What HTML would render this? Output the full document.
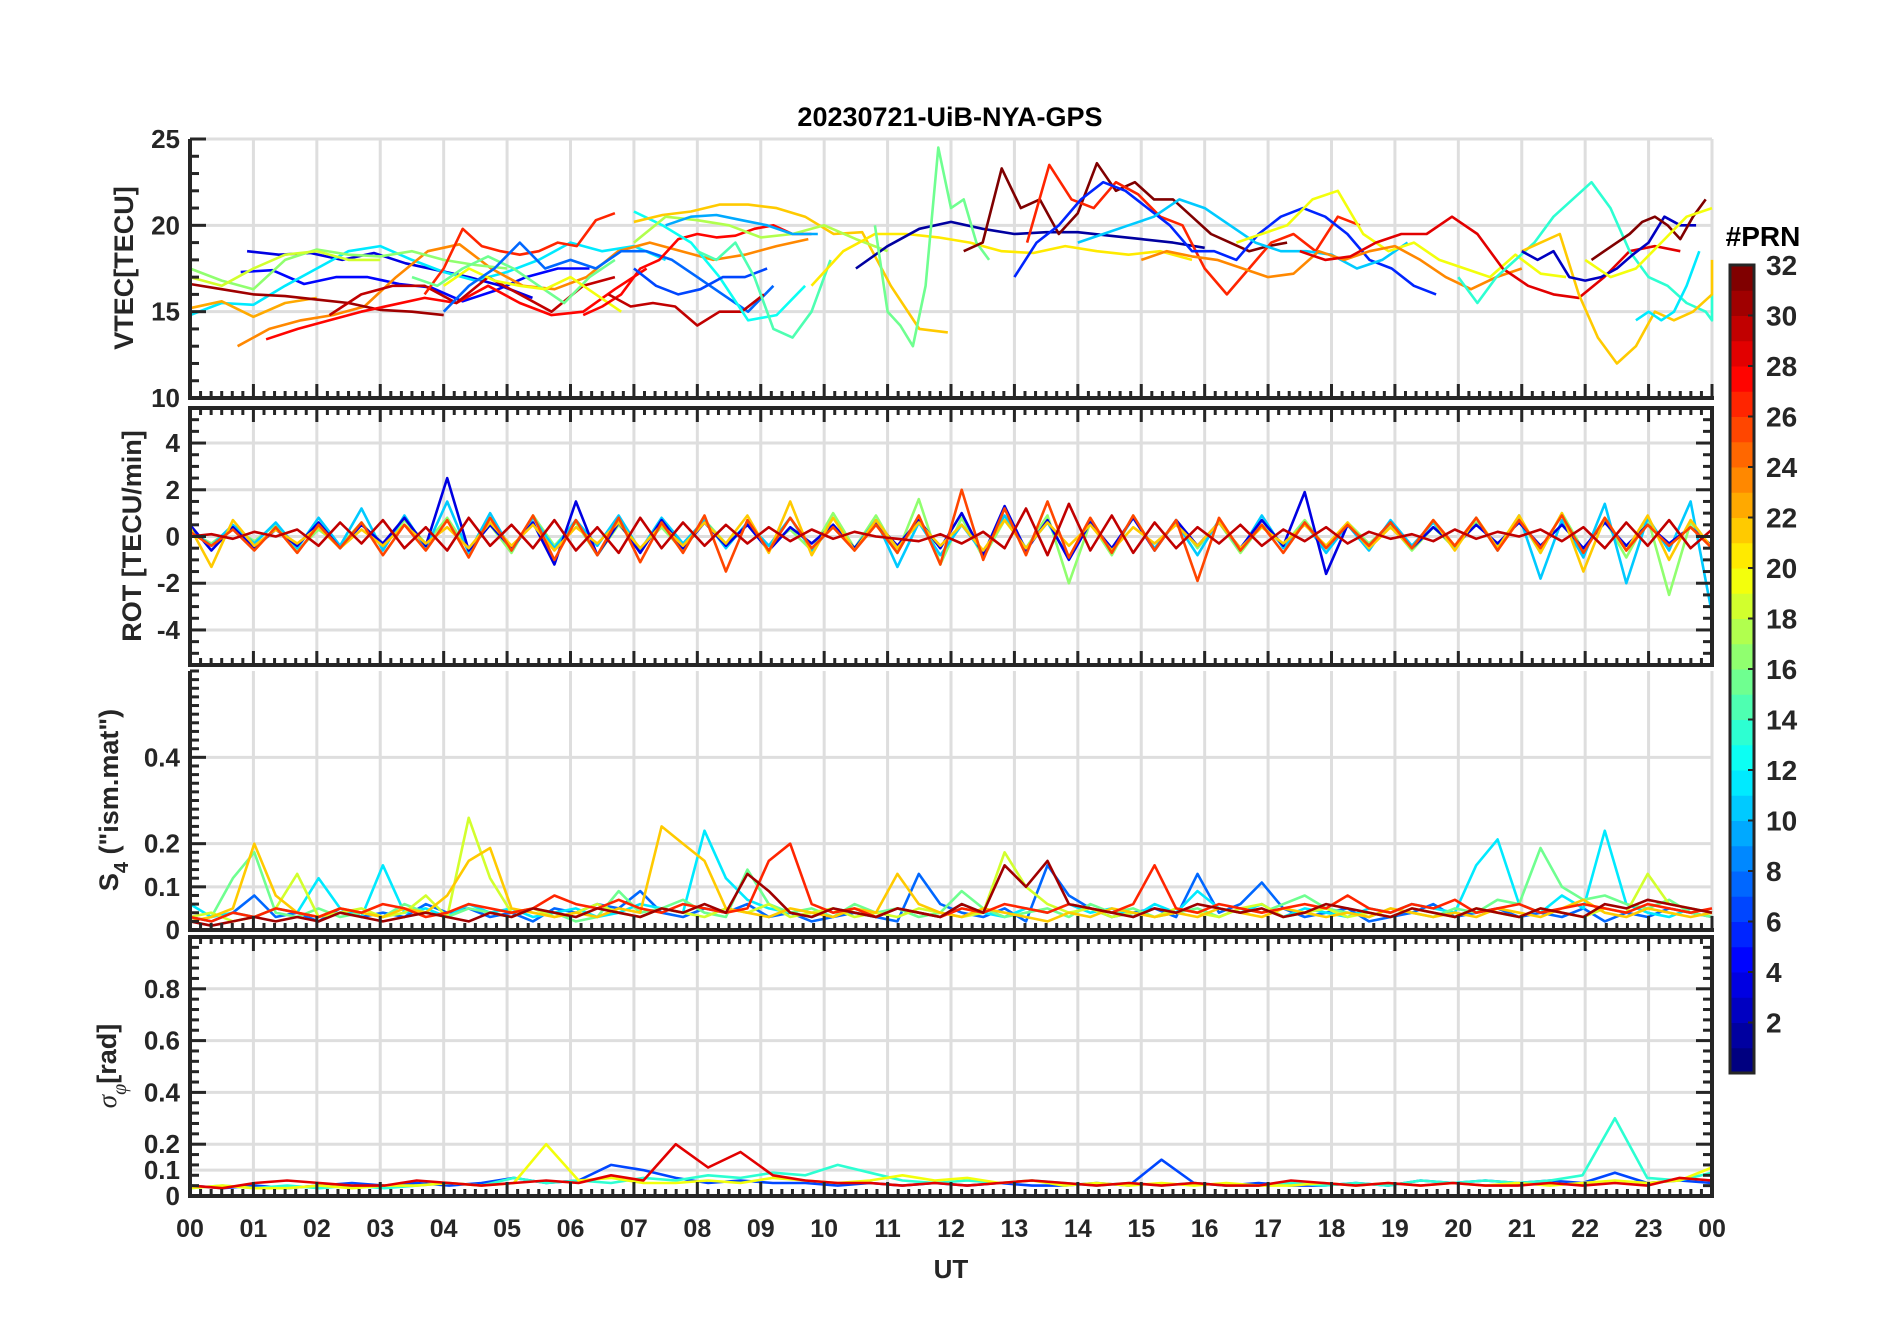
<!DOCTYPE html>
<html><head><meta charset="utf-8"><title>20230721-UiB-NYA-GPS</title>
<style>
html,body{margin:0;padding:0;background:#fff;}
svg{display:block;font-family:"Liberation Sans",Arial,sans-serif;}
</style></head>
<body>
<svg id="chart" width="1902" height="1330" viewBox="0 0 1902 1330" xmlns="http://www.w3.org/2000/svg">
<rect width="1902" height="1330" fill="#fff"/>
<text x="950" y="126" text-anchor="middle" font-size="27" font-weight="bold" fill="#000">20230721-UiB-NYA-GPS</text>
<g id="grids"></g>
<g id="series"></g>
<g id="axes"></g>
<g id="cbar"></g>
<text x="951" y="1278" text-anchor="middle" font-size="26" font-weight="bold" fill="#262626">UT</text>
<text transform="translate(133,268) rotate(-90)" text-anchor="middle" font-size="27" font-weight="bold" fill="#262626">VTEC[TECU]</text>
<text transform="translate(141,536) rotate(-90)" text-anchor="middle" font-size="27" font-weight="bold" fill="#262626">ROT [TECU/min]</text>
<text transform="translate(118,800) rotate(-90)" text-anchor="middle" font-size="27" font-weight="bold" fill="#262626">S<tspan font-size="20" dy="10">4</tspan><tspan dy="-10"> ("ism.mat")</tspan></text>
<text transform="translate(116,1066) rotate(-90)" text-anchor="middle" font-size="27" font-weight="bold" fill="#262626"><tspan font-style="italic" font-weight="normal" font-family="Liberation Serif, serif">σ</tspan><tspan font-size="20" dy="10" font-style="italic" font-weight="normal" font-family="Liberation Serif, serif">φ</tspan><tspan dy="-10">[rad]</tspan></text>
<text x="1763" y="246" text-anchor="middle" font-size="28" font-weight="bold" fill="#000">#PRN</text>
</svg>
<script>
// ---------- data ----------
const hourTicks = ["00","01","02","03","04","05","06","07","08","09","10","11","12","13","14","15","16","17","18","19","20","21","22","23","00"];
const vtecTicks = [10,15,20,25];
const rotTicks = [-4,-2,0,2,4];
const s4Ticks = [0,0.1,0.2,0.4];
const sigTicks = [0,0.1,0.2,0.4,0.6,0.8];
const prnTicks = [2,4,6,8,10,12,14,16,18,20,22,24,26,28,30,32];

// VTEC arcs: PRN, start hour, step hour, values
const vtecPrn   = [5,4,12,23,24,31,17,19,28,30,27,16,20,8,28,30,13,7,22,18,10,15,21,2,16,32,27,6,11,20,24,29,14,22,3,32,12,20];
const vtecStart = [0.8,0.9,0,0,0.75,0,0,0,1.2,2.2,3.7,3.5,4.0,4.0,6.2,6.6,7.0,7.0,7.0,7.0,7.5,8.0,9.8,10.5,10.8,12.2,13.2,13.0,14.0,16.5,15.0,17.5,20.0,21.0,21.0,22.1,22.8,22.0];
const vtecStep  = [0.5,0.5,0.5,0.5,0.5,0.5,0.5,0.5,0.5,0.5,0.3,0.4,0.4,0.4,0.3,0.35,0.45,0.35,0.45,0.5,0.4,0.3,0.5,0.5,0.2,0.3,0.35,0.35,0.4,0.4,0.4,0.4,0.3,0.3,0.25,0.2,0.2,0.4];
const vtecVals = [
 [17.3,17.4,16.6,17.0,17.0,16.6,16.4,15.6,16.2,17.0,17.5,17.5],
 [18.5,18.3,18.4,18.0,18.4,17.8,17.4,17.0,16.5,15.8],
 [14.8,15.5,15.4,16.5,17.5,18.5,18.8,18.0,17.3,16.8,17.3,18.0,19.0,18.5,18.8,18.0],
 [15.2,15.6,14.7,15.5,15.8],
 [13.0,14.0,14.5,14.8,15.3,17.0,18.5,18.9,17.5,16.5,16.3,17.0,18.5,19.0,18.5,18.0,18.3,18.8,19.2],
 [16.6,16.3,16.0,15.9,15.7,15.5,15.1,15.0,14.8],
 [17.5,16.8,16.3,18.0,18.6,18.3,18.2,18.5,18.0,17.7,17.5],
 [17.0,16.5,17.5,18.3,18.5,18.0,18.0],
 [13.4,14.0,14.5,15.0,15.4,15.8,15.5,16.5,15.5,14.8,15.0,16.3,17.5],
 [14.8,16.0,16.5,16.5,15.5,17.0,16.0,15.0,16.5,17.0],
 [16.0,17.5,19.8,18.8,18.5,18.3,18.5,19.0,18.8,20.3,20.7],
 [17.0,16.5,17.5,18.2,17.5,16.5,15.5,17.0,18.0],
 [16.5,17.5,16.8,16.5,16.3,17.0,16.0,15.0],
 [15.0,16.5,17.5,19.0,17.5,18.0,17.5,18.5,18.5,18.0,17.0,16.0,15.0,16.5],
 [14.8,15.3,16.0,17.5,18.0,19.2,19.5,19.3,19.4,19.8,20.0,19.5,19.5],
 [16.0,15.3,15.5,15.3,14.2,15.0,15.0,16.0],
 [20.8,20.0,19.0,17.0,14.5,14.8,16.5],
 [17.5,16.5,16.0,16.3,17.0,17.0,17.5],
 [20.2,20.6,20.8,21.2,21.2,21.0,20.5,19.5,19.6,16.5,14.0,13.8],
 [19.0,20.5,20.3,20.0,19.3,19.5,20.0,19.2,18.5],
 [20.0,20.5,20.6,20.3,20.0,19.5,19.5],
 [18.5,18.0,19.0,17.0,14.0,13.5,15.0,18.0],
 [16.5,18.5,19.5,19.5,19.3,19.0,18.5,18.4,18.8,18.5,18.3,18.5,18.0],
 [17.5,18.8,19.8,20.2,19.8,19.5,19.6,19.6,19.4,19.2,19.0,18.7],
 [20.0,15.0,14.2,13.0,16.5,24.5,21.0,21.5,19.0,18.0],
 [18.5,19.0,23.3,21.0,21.5,19.5,20.7,23.6,22.0,22.5,21.5,21.5,20.5,19.5,19.0,18.5,18.8,19.0],
 [19.0,23.5,21.5,21.0,22.5,21.8,20.5,20.0,17.5,16.0,17.5,19.0,19.5,18.5,20.5,20.0],
 [17.0,19.0,20.0,21.5,22.5,22.0,21.0,20.0,18.5,18.5,18.0,19.5,20.5,21.0,20.5,19.5,18.0,17.5,16.5,16.0],
 [19.0,19.5,20.0,20.5,21.5,21.0,20.0,19.0,18.5,18.5,18.3,17.5,18.0,19.0],
 [19.0,19.5,20.0,21.5,22.0,19.5,18.5,19.0,18.0,17.5,17.0,18.3,17.2,17.0],
 [18.0,18.5,18.2,18.0,17.5,17.0,17.2,18.5,18.0,18.5,18.8,18.0,17.0,16.3,17.0,17.5],
 [18.5,18.0,18.2,19.0,19.5,19.5,20.5,19.5,17.5,16.5,16.0,15.8,17.0,18.5,18.8,18.5],
 [17.0,15.5,17.0,18.0,19.0,20.5,21.5,22.5,21.0,18.5,17.0,16.5,15.5,15.0,14.5,16.0],
 [18.5,19.0,19.5,16.0,13.5,12.0,13.0,15.0,14.5,15.0,16.0,18.0],
 [18.5,18.0,18.5,17.0,16.8,17.0,17.5,18.3,19.0,20.5,20.0,20.0],
 [18.0,18.5,19.0,19.5,20.2,20.5,20.0,19.2,20.5,21.5],
 [14.5,15.0,14.5,15.0,16.5,18.5],
 [18.0,17.0,17.5,19.0,20.5,21.0]
];

// ROT (20-min samples, 72 per PRN)
const rotPrn = [17,11,4,22,26,30];
const rotVals = [
 [0.2,-0.3,0.4,-0.2,0.5,-0.6,0.3,-0.4,0.6,-0.5,0.7,-0.3,0.8,-0.6,0.5,-0.7,0.9,-0.4,0.6,-0.8,0.5,-0.5,0.4,-0.6,0.7,-0.3,0.5,-0.4,0.3,-0.6,1.0,-0.5,0.9,-0.7,1.6,-1.2,0.8,-0.9,0.7,-0.5,0.9,-2.0,0.6,-0.8,0.9,-0.6,0.7,-0.5,0.6,-0.7,0.5,-0.4,0.7,-0.5,0.6,-0.3,0.5,-0.6,0.4,-0.5,0.6,-0.4,0.8,-0.7,1.0,-0.6,0.7,-0.9,0.8,-2.5,0.6,-0.5],
 [0.3,-0.4,0.5,-0.3,0.6,-0.5,0.8,-0.4,1.2,-0.6,0.9,-0.5,1.5,-0.7,1.0,-0.6,0.8,-0.5,0.7,-0.4,0.9,-0.6,0.8,-0.3,0.7,-0.5,0.6,-0.4,0.8,-0.6,0.5,-0.5,0.7,-1.3,0.6,-0.8,0.5,-0.7,0.9,-0.5,0.6,-0.9,0.7,-0.6,0.8,-0.5,0.6,-0.8,0.7,-0.6,0.9,-0.5,0.6,-0.7,0.5,-0.6,0.7,-0.4,0.6,-0.5,0.8,-0.6,0.9,-1.8,0.7,-0.9,1.4,-2.0,0.8,-0.6,1.5,-3.3],
 [0.5,-0.6,0.4,-0.5,0.3,-0.4,0.6,-0.5,0.5,-0.3,0.8,-0.4,2.5,-0.6,0.5,-0.5,0.6,-1.2,1.5,-0.8,0.6,-0.7,0.7,-0.5,0.6,-0.4,0.5,-0.6,0.4,-0.3,0.5,-0.5,0.6,-0.4,0.7,-0.5,1.0,-0.8,1.3,-0.6,0.7,-1.0,0.6,-0.5,0.8,-0.6,0.7,-0.4,0.6,-0.5,0.7,-0.4,1.9,-1.6,0.5,-0.4,0.6,-0.5,0.4,-0.4,0.5,-0.3,0.6,-0.4,0.5,-0.5,0.6,-0.4,0.5,-0.3,0.4,-0.4],
 [0.4,-1.3,0.7,-0.4,0.3,-0.3,0.4,-0.5,0.3,-0.4,0.5,-0.3,0.4,-0.5,0.6,-0.4,0.5,-0.6,0.4,-0.3,0.6,-0.5,0.5,-0.4,0.6,-0.3,0.9,-0.7,1.5,-0.8,0.8,-0.6,0.7,-0.5,0.6,-0.4,0.5,-0.6,0.7,-0.5,0.6,-0.4,0.5,-0.6,0.4,-0.3,0.5,-0.4,0.6,-0.5,0.4,-0.3,0.5,-0.4,0.6,-0.5,0.4,-0.5,0.7,-0.6,0.8,-0.5,0.9,-0.7,1.0,-1.5,0.8,-0.6,0.9,-1.0,0.7,-0.5],
 [0.2,-0.4,0.3,-0.6,0.4,-0.7,0.5,-0.5,0.6,-0.8,0.5,-0.6,0.7,-0.9,0.8,-0.6,0.9,-1.0,0.7,-0.8,0.8,-1.1,0.6,-0.7,0.9,-1.5,0.7,-0.6,0.8,-0.5,0.4,-0.6,0.5,-0.7,0.9,-1.2,2.0,-1.0,1.2,-0.8,1.5,-0.9,0.8,-0.7,0.9,-0.6,0.7,-1.9,0.8,-0.6,0.5,-0.7,0.6,-0.5,0.5,-0.4,0.6,-0.5,0.7,-0.4,0.8,-0.6,0.7,-0.5,0.9,-0.7,0.8,-0.6,0.5,-0.4,0.4,-0.5],
 [0.0,0.1,-0.1,0.2,0.0,0.3,-0.4,0.6,-0.3,0.7,-0.5,0.4,-0.6,0.8,-0.4,0.5,-0.5,0.7,-0.6,0.4,-0.7,0.8,-0.5,0.6,-0.4,0.5,-0.3,0.4,-0.2,0.3,-0.1,0.2,0.0,-0.1,-0.2,0.1,-0.3,0.2,-0.5,1.2,-0.8,1.4,-0.6,0.9,-0.7,0.6,-0.5,0.4,-0.3,0.5,-0.4,0.3,-0.2,0.4,-0.3,0.2,-0.1,0.1,-0.2,0.3,-0.1,0.2,0.0,0.3,-0.2,0.4,-0.5,0.6,-0.4,0.7,-0.5,0.3]
];

// S4 (20-min samples, 72 per PRN)
const s4Prn = [8,12,16,19,22,27,31];
const s4Vals = [
 [0.03,0.02,0.04,0.08,0.03,0.04,0.02,0.05,0.03,0.04,0.03,0.06,0.04,0.05,0.03,0.04,0.02,0.05,0.04,0.06,0.05,0.09,0.04,0.03,0.05,0.04,0.06,0.03,0.04,0.02,0.03,0.04,0.03,0.02,0.13,0.06,0.04,0.03,0.05,0.02,0.15,0.08,0.05,0.03,0.04,0.05,0.03,0.13,0.04,0.06,0.11,0.05,0.03,0.04,0.05,0.02,0.03,0.04,0.06,0.03,0.04,0.05,0.03,0.04,0.03,0.05,0.02,0.04,0.03,0.05,0.04,0.03],
 [0.06,0.03,0.04,0.03,0.05,0.04,0.12,0.05,0.03,0.15,0.04,0.05,0.03,0.06,0.04,0.05,0.03,0.04,0.05,0.03,0.04,0.06,0.05,0.04,0.23,0.12,0.07,0.05,0.04,0.03,0.05,0.04,0.03,0.05,0.04,0.03,0.06,0.04,0.03,0.05,0.04,0.06,0.04,0.05,0.03,0.06,0.04,0.09,0.05,0.04,0.06,0.03,0.05,0.04,0.03,0.05,0.04,0.06,0.05,0.04,0.15,0.21,0.06,0.04,0.08,0.05,0.23,0.06,0.04,0.03,0.05,0.04],
 [0.02,0.03,0.12,0.18,0.04,0.03,0.05,0.03,0.04,0.03,0.06,0.04,0.03,0.05,0.04,0.03,0.05,0.04,0.02,0.03,0.09,0.04,0.05,0.07,0.04,0.03,0.14,0.06,0.04,0.05,0.03,0.06,0.04,0.05,0.03,0.04,0.09,0.05,0.03,0.04,0.05,0.03,0.06,0.04,0.05,0.03,0.04,0.05,0.03,0.05,0.04,0.06,0.08,0.05,0.04,0.03,0.05,0.04,0.03,0.05,0.04,0.07,0.06,0.19,0.10,0.07,0.08,0.06,0.05,0.07,0.04,0.03],
 [0.03,0.04,0.02,0.03,0.05,0.13,0.03,0.04,0.05,0.03,0.04,0.08,0.03,0.26,0.12,0.04,0.05,0.03,0.04,0.06,0.04,0.03,0.05,0.04,0.03,0.05,0.04,0.06,0.03,0.04,0.05,0.03,0.04,0.03,0.05,0.04,0.03,0.04,0.18,0.10,0.06,0.04,0.05,0.03,0.04,0.03,0.05,0.04,0.03,0.05,0.06,0.03,0.04,0.05,0.03,0.04,0.03,0.05,0.04,0.03,0.05,0.04,0.03,0.05,0.04,0.03,0.05,0.04,0.13,0.06,0.05,0.04],
 [0.02,0.03,0.05,0.20,0.08,0.04,0.03,0.05,0.04,0.03,0.05,0.04,0.08,0.16,0.19,0.05,0.04,0.03,0.04,0.03,0.05,0.04,0.24,0.20,0.16,0.05,0.04,0.03,0.05,0.04,0.03,0.05,0.04,0.13,0.06,0.04,0.03,0.05,0.04,0.03,0.02,0.04,0.03,0.05,0.04,0.03,0.04,0.03,0.05,0.04,0.03,0.05,0.04,0.03,0.04,0.03,0.05,0.04,0.03,0.04,0.03,0.05,0.04,0.03,0.05,0.07,0.04,0.03,0.05,0.04,0.03,0.04],
 [0.03,0.02,0.04,0.03,0.05,0.04,0.03,0.05,0.04,0.06,0.05,0.03,0.04,0.06,0.05,0.04,0.05,0.08,0.06,0.05,0.07,0.05,0.04,0.06,0.05,0.04,0.05,0.16,0.20,0.06,0.04,0.05,0.03,0.05,0.04,0.03,0.05,0.04,0.06,0.05,0.04,0.06,0.05,0.04,0.06,0.15,0.05,0.04,0.06,0.05,0.04,0.05,0.06,0.05,0.08,0.05,0.04,0.06,0.05,0.07,0.04,0.05,0.06,0.04,0.05,0.06,0.05,0.04,0.06,0.05,0.04,0.05],
 [0.02,0.01,0.02,0.03,0.02,0.03,0.02,0.04,0.03,0.02,0.03,0.04,0.03,0.02,0.04,0.03,0.05,0.04,0.03,0.05,0.04,0.03,0.05,0.04,0.06,0.04,0.13,0.09,0.04,0.03,0.05,0.04,0.03,0.05,0.04,0.03,0.06,0.04,0.15,0.10,0.16,0.06,0.05,0.04,0.03,0.05,0.04,0.06,0.05,0.04,0.05,0.03,0.04,0.06,0.05,0.04,0.03,0.05,0.04,0.03,0.05,0.04,0.03,0.05,0.04,0.03,0.06,0.05,0.07,0.06,0.05,0.04]
];

// sigma phi (30-min samples, 48 per PRN)
const sigPrn = [7,14,20,29];
const sigVals = [
 [0.04,0.03,0.04,0.03,0.04,0.05,0.04,0.05,0.04,0.05,0.07,0.05,0.06,0.12,0.10,0.07,0.05,0.06,0.05,0.05,0.04,0.05,0.04,0.05,0.04,0.05,0.04,0.04,0.05,0.04,0.14,0.05,0.04,0.05,0.04,0.04,0.05,0.04,0.06,0.05,0.06,0.05,0.06,0.05,0.09,0.05,0.06,0.05],
 [0.03,0.04,0.03,0.04,0.03,0.04,0.03,0.04,0.05,0.04,0.07,0.05,0.06,0.05,0.07,0.06,0.08,0.07,0.09,0.08,0.12,0.09,0.06,0.05,0.06,0.05,0.06,0.05,0.04,0.05,0.04,0.05,0.04,0.04,0.05,0.04,0.05,0.04,0.06,0.05,0.06,0.05,0.06,0.08,0.30,0.07,0.06,0.09],
 [0.03,0.04,0.03,0.03,0.04,0.03,0.04,0.04,0.05,0.04,0.05,0.20,0.06,0.07,0.05,0.05,0.06,0.05,0.07,0.06,0.05,0.06,0.08,0.06,0.07,0.05,0.06,0.04,0.05,0.04,0.05,0.04,0.05,0.04,0.04,0.05,0.04,0.05,0.04,0.05,0.04,0.05,0.04,0.05,0.06,0.05,0.06,0.11],
 [0.04,0.03,0.05,0.06,0.05,0.04,0.04,0.06,0.05,0.04,0.05,0.06,0.05,0.08,0.06,0.20,0.11,0.17,0.08,0.06,0.05,0.05,0.04,0.05,0.04,0.05,0.06,0.05,0.04,0.05,0.04,0.05,0.04,0.04,0.06,0.05,0.04,0.05,0.04,0.05,0.04,0.04,0.05,0.04,0.05,0.04,0.07,0.06]
];

// ---------- layout ----------
const X0 = 190, X1 = 1712;
const panels = [
 {name:"vtec", top:139, bot:398, min:10, max:25, ticks:vtecTicks, minor:1, box:false, lab:v=>String(v)},
 {name:"rot", top:408, bot:665, min:-5.5, max:5.5, ticks:rotTicks, minor:0.5, box:true, lab:v=>String(v)},
 {name:"s4", top:671, bot:930, min:0, max:0.6, ticks:s4Ticks, minor:0.02, box:false, lab:v=>String(v)},
 {name:"sigma", top:937, bot:1196, min:0, max:1.0, ticks:sigTicks, minor:0.04, box:true, lab:v=>String(v)}
];
const NS = "http://www.w3.org/2000/svg";
function xs(h){ return X0 + (X1 - X0) * h / 24; }
function ys(p, v){ return p.bot - (p.bot - p.top) * (v - p.min) / (p.max - p.min); }
function jet(prn){
  const x = (prn - 1) / 31;
  const c = t => Math.round(255 * Math.max(0, Math.min(1, t)));
  return "rgb(" + c(1.5 - Math.abs(4*x - 3)) + "," + c(1.5 - Math.abs(4*x - 2)) + "," + c(1.5 - Math.abs(4*x - 1)) + ")";
}
function mk(tag, attrs, parent){
  const e = document.createElementNS(NS, tag);
  for (const k in attrs) e.setAttribute(k, attrs[k]);
  parent.appendChild(e);
  return e;
}
const gGrid = document.getElementById("grids");
const gSer = document.getElementById("series");
const gAx = document.getElementById("axes");
const gCb = document.getElementById("cbar");

panels.forEach(p => {
  for (let h = 1; h <= 24; h++) {
    const l = mk("line", {x1:xs(h), x2:xs(h), y1:p.top, y2:p.bot, stroke:"#dedede", "stroke-width":3}, gGrid);
    
    
  }
  p.ticks.forEach(v => {
    if (v === p.min) return;
    const l = mk("line", {x1:X0, x2:X1, y1:ys(p,v), y2:ys(p,v), stroke:"#dedede", "stroke-width":3}, gGrid);
    
    
  });
});

const pv = panels[0];
vtecVals.forEach((vals, i) => {
  const pts = vals.map((v, j) => xs(Math.min(24, vtecStart[i] + j * vtecStep[i])).toFixed(1) + "," + ys(pv, v).toFixed(1)).join(" ");
  const pl = mk("polyline", {points:pts, fill:"none", stroke:jet(vtecPrn[i]), "stroke-width":2.6, "stroke-linejoin":"round"}, gSer);
  
  
});
function drawNoise(p, prns, valsArr, stepH, nm){
  valsArr.forEach((vals, i) => {
    const pts = vals.map((v, j) => xs(Math.min(24, j * stepH)).toFixed(1) + "," + ys(p, v).toFixed(1)).join(" ");
    const pl = mk("polyline", {points:pts, fill:"none", stroke:jet(prns[i]), "stroke-width":2.6, "stroke-linejoin":"round"}, gSer);
    
    
  });
}
drawNoise(panels[1], rotPrn, rotVals, 24/71, "rot");
drawNoise(panels[2], s4Prn, s4Vals, 24/71, "s4");
drawNoise(panels[3], sigPrn, sigVals, 24/47, "sigma");

const AX = "#262626";
panels.forEach((p, pi) => {
  const ax = mk("g", {}, gAx);
  
  
  mk("line", {x1:X0, x2:X0, y1:p.top - (p.box?1.5:0), y2:p.bot + 2, stroke:AX, "stroke-width":4}, ax);
  mk("line", {x1:X0 - 2, x2:X1 + 2, y1:p.bot, y2:p.bot, stroke:AX, "stroke-width":4}, ax);
  if (p.box) {
    mk("line", {x1:X0 - 2, x2:X1 + 2, y1:p.top, y2:p.top, stroke:AX, "stroke-width":4}, ax);
    mk("line", {x1:X1, x2:X1, y1:p.top, y2:p.bot, stroke:AX, "stroke-width":4}, ax);
  }
  for (let m = 0; m <= 144; m++) {
    const x = xs(m / 6), major = (m % 6 === 0), L = major ? 14 : 7;
    mk("line", {x1:x, x2:x, y1:p.bot, y2:p.bot - L, stroke:AX, "stroke-width":3}, ax);
    if (p.box) mk("line", {x1:x, x2:x, y1:p.top, y2:p.top + L, stroke:AX, "stroke-width":3}, ax);
  }
  const n = Math.round((p.max - p.min) / p.minor);
  for (let k = 0; k <= n; k++) {
    const v = p.min + k * p.minor;
    const y = ys(p, v);
    const major = p.ticks.some(t => Math.abs(t - v) < 1e-6);
    const L = major ? 16 : 9;
    mk("line", {x1:X0, x2:X0 + L, y1:y, y2:y, stroke:AX, "stroke-width":3}, ax);
    if (p.box) mk("line", {x1:X1, x2:X1 - L, y1:y, y2:y, stroke:AX, "stroke-width":3}, ax);
  }
  p.ticks.forEach(v => {
    const t = mk("text", {x:X0 - 10, y:ys(p, v) + 9, "text-anchor":"end", "font-size":26, "font-weight":"bold", fill:AX}, ax);
    
    
    t.textContent = p.lab(v);
  });
});
hourTicks.forEach((lab, i) => {
  const t = mk("text", {x:xs(i), y:1237, "text-anchor":"middle", "font-size":25, "font-weight":"bold", fill:AX}, gAx);
  
  
  t.textContent = lab;
});

const CB = {x:1730, w:24, top:265, bot:1073, min:0, max:32};
function cy(v){ return CB.bot - (CB.bot - CB.top) * (v - CB.min) / (CB.max - CB.min); }
for (let k = 1; k <= 32; k++) {
  const r = mk("rect", {x:CB.x, y:cy(k), width:CB.w, height:cy(k - 1) - cy(k) + 0.5, fill:jet(k)}, gCb);
  
  
}
const cbf = mk("rect", {x:CB.x, y:CB.top, width:CB.w, height:CB.bot - CB.top, fill:"none", stroke:AX, "stroke-width":3}, gCb);


prnTicks.forEach(v => {
  mk("line", {x1:CB.x + CB.w, x2:CB.x + CB.w - 6, y1:cy(v), y2:cy(v), stroke:AX, "stroke-width":2}, gCb);
  const t = mk("text", {x:1766, y:cy(v) + 10, "font-size":28, "font-weight":"bold", fill:AX}, gCb);
  
  
  t.textContent = String(v);
});
</script>
</body></html>
